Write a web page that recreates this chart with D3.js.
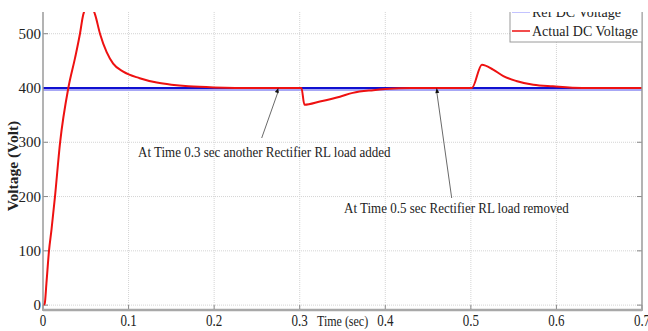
<!DOCTYPE html>
<html>
<head>
<meta charset="utf-8">
<script src="https://cdn.jsdelivr.net/npm/d3@7"></script>
<style>
  body { margin: 0; background: #fff; }
  text { font-family: "Liberation Serif", "Times New Roman", serif; fill: #222; }
</style>
</head>
<body>
<div id="chart"></div>
<script>
const width = 648;
const height = 331;

const timeSec = [0, 0.002, 0.004, 0.007, 0.010, 0.014, 0.020, 0.0296, 0.0374, 0.0432, 0.047, 0.052, 0.057,
  0.0607, 0.0666, 0.0744, 0.082, 0.0938, 0.113, 0.133, 0.15, 0.17, 0.2, 0.25, 0.302, 0.3055, 0.3236,
  0.347, 0.362, 0.386, 0.40, 0.43, 0.5012, 0.5129, 0.526, 0.538, 0.553, 0.573, 0.596, 0.63, 0.7];
const actualVolt = [0, 3, 40, 100, 140, 200, 300, 400, 455, 500, 535, 550, 549,
  536, 500, 466, 445, 430, 418, 410, 406, 403, 401, 400, 400, 369, 375,
  384, 391, 396, 398, 400, 400, 443, 434, 422, 413, 406, 403, 400, 400];
const refTime = [0, 0.7];
const refVolt = [400, 400];

const xTicks = [0, 0.1, 0.2, 0.3, 0.4, 0.5, 0.6, 0.7];
const yTicks = [0, 100, 200, 300, 400, 500];
const legendLabels = ['Ref DC Voltage', 'Actual DC Voltage'];
const notes = [
  { text: 'At Time 0.3 sec another Rectifier RL load added', t: 0.275, v: 400 },
  { text: 'At Time 0.5 sec Rectifier RL load removed', t: 0.46, v: 400 }
];

const pLeft = 43, pRight = 642, pTop = 12, pBottom = 310;

const x = d3.scaleLinear().domain([0, 0.7]).range([pLeft, pRight]);
const y = d3.scaleLinear().domain([-9, 540]).range([pBottom, pTop]);

const svg = d3.select('#chart').append('svg')
  .attr('width', width)
  .attr('height', height);

svg.append('defs').append('clipPath').attr('id', 'plotclip')
  .append('rect')
  .attr('x', pLeft).attr('y', pTop)
  .attr('width', pRight - pLeft).attr('height', pBottom - pTop);

// grid
svg.append('g').selectAll('line').data(xTicks.slice(1, -1)).join('line')
  .attr('x1', d => x(d)).attr('x2', d => x(d))
  .attr('y1', pTop).attr('y2', pBottom)
  .attr('stroke', '#d4d4d4').attr('stroke-dasharray', '1,1');

svg.append('g').selectAll('line').data(yTicks).join('line')
  .attr('x1', pLeft).attr('x2', pRight)
  .attr('y1', d => y(d)).attr('y2', d => y(d))
  .attr('stroke', '#d4d4d4').attr('stroke-dasharray', '1,1');

// inward ticks
const tk = svg.append('g').attr('stroke', '#8a8a8a');
yTicks.forEach(d => {
  tk.append('line').attr('x1', pLeft).attr('x2', pLeft + 5).attr('y1', y(d)).attr('y2', y(d));
  tk.append('line').attr('x1', pRight - 5).attr('x2', pRight).attr('y1', y(d)).attr('y2', y(d));
});
xTicks.forEach(d => {
  tk.append('line').attr('x1', x(d)).attr('x2', x(d)).attr('y1', pBottom).attr('y2', pBottom - 5);
});

// plotted lines
const plot = svg.append('g').attr('clip-path', 'url(#plotclip)');

const line = d3.line()
  .x(d => x(d[0]))
  .y(d => y(d[1]));

const refData = refTime.map((t, i) => [t, refVolt[i]]);
plot.append('path')
  .attr('d', line(refData))
  .attr('transform', 'translate(0,2)')
  .attr('fill', 'none').attr('stroke', '#a7a7f5').attr('stroke-width', 2);
plot.append('path')
  .attr('d', line(refData))
  .attr('fill', 'none').attr('stroke', '#1010d0').attr('stroke-width', 2);

const actData = timeSec.map((t, i) => [t, actualVolt[i]]);
plot.append('path')
  .attr('d', line.curve(d3.curveMonotoneX)(actData))
  .attr('fill', 'none').attr('stroke', '#ee1111').attr('stroke-width', 2)
  .attr('stroke-linejoin', 'round');

// axes frame
svg.append('line').attr('x1', pLeft).attr('x2', pLeft).attr('y1', pTop).attr('y2', pBottom + 1)
  .attr('stroke', '#9a9a9a').attr('stroke-width', 1.5);
svg.append('line').attr('x1', pRight).attr('x2', pRight).attr('y1', pTop).attr('y2', pBottom + 1)
  .attr('stroke', '#9a9a9a').attr('stroke-width', 1.5);
svg.append('line').attr('x1', pLeft).attr('x2', pRight).attr('y1', pBottom).attr('y2', pBottom)
  .attr('stroke', '#a8a8a8').attr('stroke-width', 2.5);

// tick labels
svg.append('g').selectAll('text').data(yTicks).join('text')
  .attr('x', pLeft - 2).attr('y', d => y(d) + 5)
  .attr('text-anchor', 'end')
  .style('font-size', '15px')
  .text(d => d);

svg.append('g').selectAll('text').data(xTicks).join('text')
  .attr('transform', d => `translate(${x(d)},${pBottom + 16}) scale(1,1.22)`)
  .attr('text-anchor', 'middle')
  .style('font-size', '13px')
  .text(d => d);

// axis titles
svg.append('text')
  .attr('transform', `translate(317,${pBottom + 16}) scale(1,1.22)`)
  .style('font-size', '12px')
  .text('Time (sec)');

svg.append('text')
  .attr('transform', 'translate(18,166) rotate(-90)')
  .attr('text-anchor', 'middle')
  .style('font-size', '15.5px')
  .style('font-weight', 'bold')
  .text('Voltage (Volt)');

// annotations
const notePos = [
  { tx: 138, ty: 157, ax: 261.7, ay: 138 },
  { tx: 344, ty: 213, ax: 451.7, ay: 198 }
];
notes.forEach((n, i) => {
  const p = notePos[i];
  const ex = x(n.t), ey = y(n.v);
  svg.append('line')
    .attr('x1', p.ax).attr('y1', p.ay).attr('x2', ex).attr('y2', ey + 3)
    .attr('stroke', '#6a6a6a').attr('stroke-width', 1);
  const ang = Math.atan2(ey - p.ay, ex - p.ax);
  const L = 5, W = 2;
  const bx = ex - L * Math.cos(ang), by = ey - L * Math.sin(ang);
  svg.append('path')
    .attr('d', `M${ex},${ey}L${bx - W * Math.sin(ang)},${by + W * Math.cos(ang)}L${bx + W * Math.sin(ang)},${by - W * Math.cos(ang)}Z`)
    .attr('fill', '#111');
  svg.append('text')
    .attr('transform', `translate(${p.tx},${p.ty}) scale(1,1.15)`)
    .style('font-size', '13px')
    .text(n.text);
});

// legend (top clipped like the source)
const leg = svg.append('g').attr('clip-path', 'url(#plotclip)');
leg.append('rect')
  .attr('x', 510).attr('y', -2).attr('width', pRight - 510).attr('height', 44)
  .attr('fill', '#fff').attr('stroke', '#9a9a9a');
const legColors = ['#8888ff', '#ee1111'];
legendLabels.forEach((lab, i) => {
  const ly = 12 + i * 19;
  leg.append('line').attr('x1', 512).attr('x2', 530).attr('y1', ly).attr('y2', ly)
    .attr('stroke', legColors[i]).attr('stroke-width', i ? 1.5 : 1);
  leg.append('text')
    .attr('transform', `translate(532,${ly + 5}) scale(1,1.1)`)
    .style('font-size', '14px')
    .text(lab);
});
</script>
</body>
</html>
